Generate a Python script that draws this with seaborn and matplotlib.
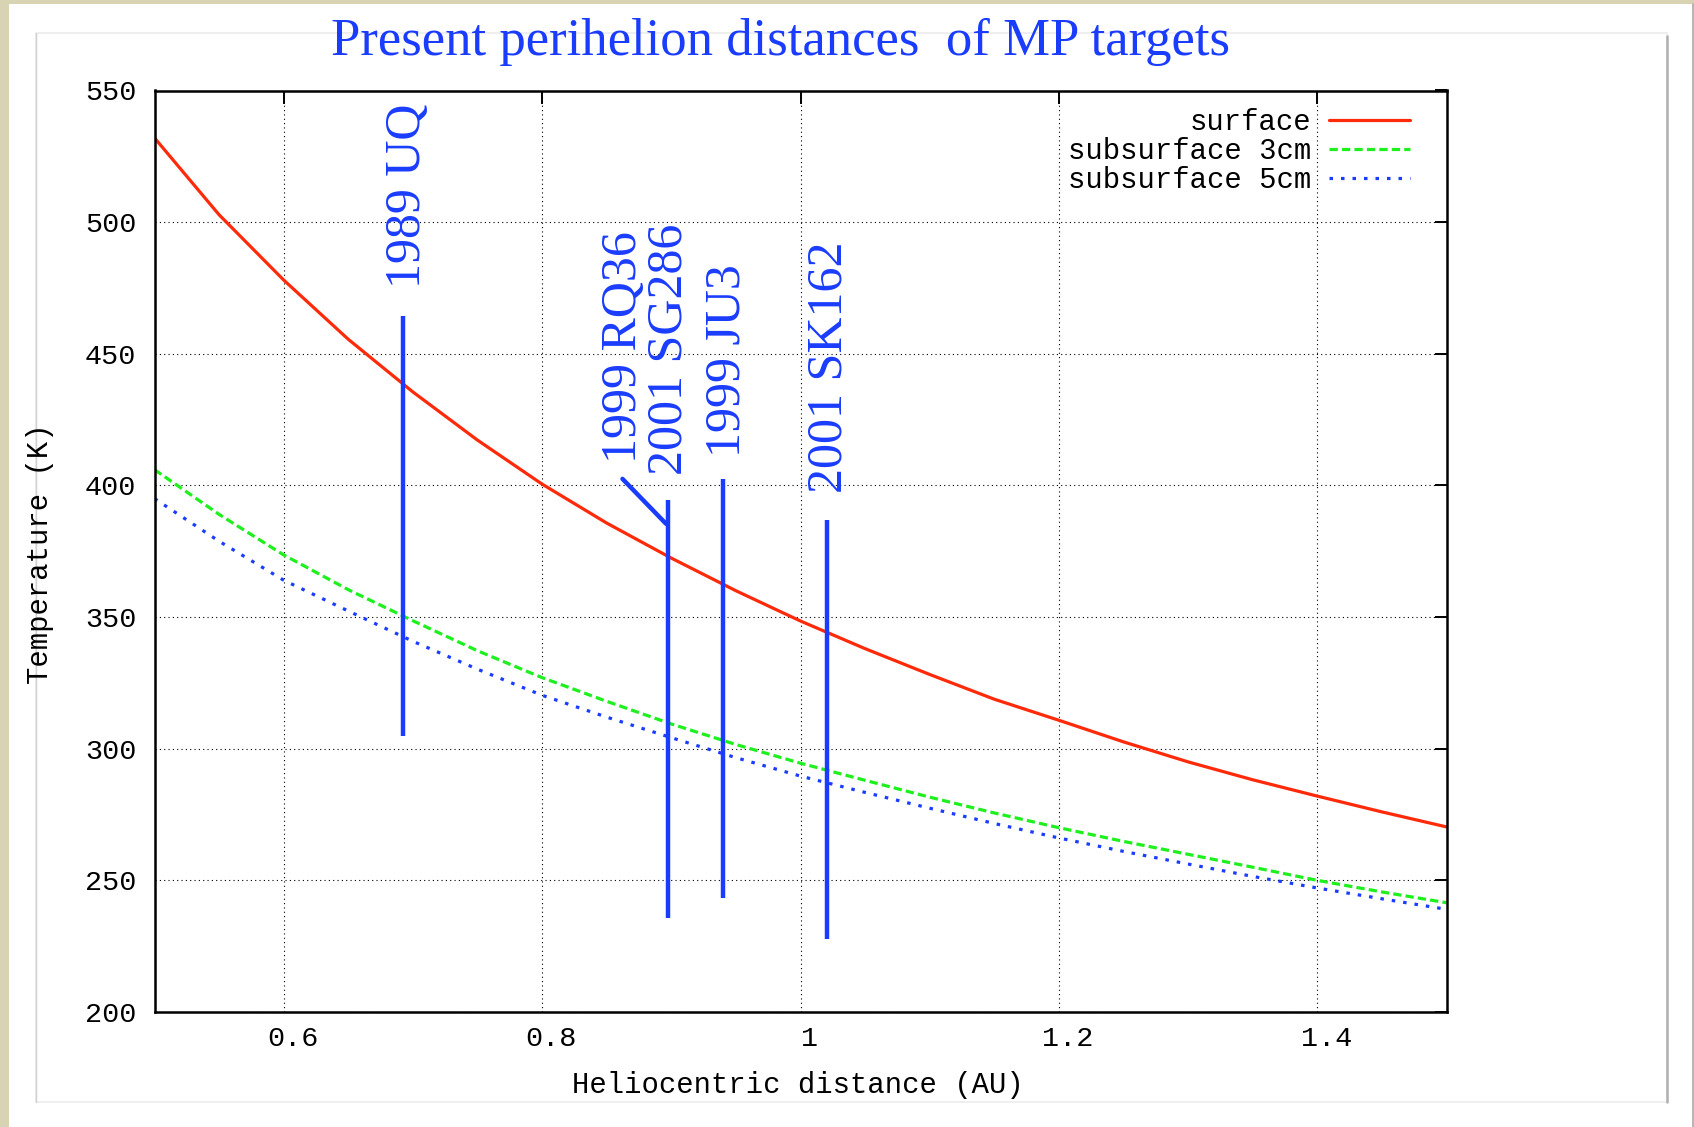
import numpy as np
import pandas as pd
import matplotlib
matplotlib.use("Agg")
import matplotlib.pyplot as plt
import matplotlib.transforms as mtransforms
from matplotlib.patches import Rectangle
from matplotlib.lines import Line2D
import seaborn as sns

# ---------------- data ----------------
distance_au = [0.50, 0.55, 0.60, 0.65, 0.70, 0.75, 0.80, 0.85, 0.90, 0.95, 1.00,
               1.05, 1.10, 1.15, 1.20, 1.25, 1.30, 1.35, 1.40, 1.45, 1.50]
surface_k = [532.0, 502.8, 478.0, 455.5, 435.5, 417.2, 400.5, 385.7, 372.4, 360.0, 348.5,
             338.0, 328.2, 318.8, 310.8, 302.6, 295.0, 288.2, 282.0, 276.0, 270.3]
sub3cm_k = [406.0, 389.0, 373.6, 360.4, 348.6, 337.2, 327.0, 318.0, 309.4, 301.6, 294.5,
            288.0, 281.6, 275.6, 270.0, 264.8, 259.9, 255.0, 250.0, 245.6, 241.5]
sub5cm_k = [395.0, 378.8, 364.0, 352.3, 340.8, 330.2, 320.3, 312.0, 304.2, 296.6, 289.6,
            283.4, 277.4, 271.6, 266.1, 261.0, 256.2, 251.5, 247.1, 243.0, 239.0]
series_names = ["surface", "subsurface 3cm", "subsurface 5cm"]

# perihelion markers of the targets
marker_au = [0.6924, 0.8978, 0.9402, 1.0204]
marker_tmin = [304.7, 235.6, 243.4, 227.8]
marker_tmax = [464.2, 394.6, 402.5, 386.7]
leader_au = [0.8622, 0.8960]
leader_k = [402.5, 385.4]

target_names = ["1989 UQ", "1999 RQ36", "2001 SG286", "1999 JU3", "2001 SK162"]
target_label_au = [0.6962, 0.8630, 0.8982, 0.9430, 1.0220]
target_label_k = [474.9, 408.4, 404.0, 410.9, 397.0]

x_ticks = [0.6, 0.8, 1.0, 1.2, 1.4]
x_tick_labels = ["0.6", "0.8", "1", "1.2", "1.4"]
y_ticks = [200, 250, 300, 350, 400, 450, 500, 550]

df = pd.DataFrame({
    "AU": distance_au * 3,
    "T": surface_k + sub3cm_k + sub5cm_k,
    "series": sum([[n] * len(distance_au) for n in series_names], []),
})

# ---------------- style ----------------
sns.set_theme(style="white")
plt.rcParams["font.family"] = ["Liberation Mono", "DejaVu Sans Mono"]
plt.rcParams["axes.edgecolor"] = "black"

W, H = 1694, 1127
fig = plt.figure(figsize=(W / 100, H / 100), dpi=100)
fig.patch.set_facecolor("#d7d3b3")

# slide background and inner panel
fig.add_artist(Rectangle((9 / W, 0), 1 - 9 / W, 1 - 4 / H, transform=fig.transFigure,
                         facecolor="white", edgecolor="none", zorder=-20))
fig.add_artist(Line2D([1692.5 / W, 1692.5 / W], [0, 1 - 4 / H], transform=fig.transFigure,
                      color="#a8a8a8", lw=1.2, zorder=-15))
fig.add_artist(Rectangle((36 / W, 1 - 1102 / H), (1667 - 36) / W, (1102 - 33) / H,
                         transform=fig.transFigure, facecolor="white",
                         edgecolor="#ececec", lw=1.2, zorder=-12))
fig.add_artist(Line2D([36 / W, 36 / W], [1 - 1102 / H, 1 - 33 / H], transform=fig.transFigure,
                      color="#d0d0d0", lw=1.0, zorder=-11))
fig.add_artist(Line2D([1667 / W, 1667 / W], [1 - 1102 / H, 1 - 36 / H], transform=fig.transFigure,
                      color="#b0b0b0", lw=1.8, zorder=-11))

ax = fig.add_axes([154.5 / W, 1 - 1012 / H, (1446.5 - 154.5) / W, (1012 - 90.5) / H])
ax.set_facecolor("white")

palette = {"surface": "#ff2a0a", "subsurface 3cm": "#1ef01e", "subsurface 5cm": "#1a3cff"}
styles = {"surface": "-", "subsurface 3cm": (0, (2.6, 1.3)), "subsurface 5cm": (0, (1.1, 2.5))}
for name in series_names:
    sub = df[df["series"] == name]
    sns.lineplot(data=sub, x="AU", y="T", ax=ax, color=palette[name],
                 linewidth=2.3, linestyle=styles[name], label=name, zorder=3)

mark_color = "#1a3cff"
ax.vlines(marker_au, marker_tmin, marker_tmax, colors=mark_color, linewidth=3.2, zorder=4)
ax.plot(leader_au, leader_k, color=mark_color, linewidth=3.2, zorder=4)
for name, xa, tk in zip(target_names, target_label_au, target_label_k):
    ax.text(xa, tk, name, rotation=90, ha="center", va="bottom", color=mark_color,
            fontsize=36, family=["Liberation Serif", "DejaVu Serif"], zorder=5)

ax.set_xlim(0.5, 1.5)
ax.set_ylim(200, 550)
ax.set_xticks(x_ticks, x_tick_labels)
ax.set_yticks(y_ticks)
ax.grid(True, color="black", linestyle=(0, (1, 2.9)), linewidth=0.8)
ax.set_axisbelow(True)
for s in ax.spines.values():
    s.set_linewidth(1.8)
    s.set_color("black")
    s.set_zorder(6)
ax.tick_params(direction="in", length=9, width=1.4, top=True, right=True,
               labelsize=20.5, colors="black")
ax.tick_params(axis="x", pad=10)
ax.tick_params(axis="y", pad=13)
offset = mtransforms.ScaledTranslation(9 / 100, 0, fig.dpi_scale_trans)
for t in ax.xaxis.get_major_ticks():
    t.label1.set_transform(t.label1.get_transform() + offset)

ax.set_xlabel("Heliocentric distance (AU)", fontsize=20.8, color="black")
ax.set_ylabel("Temperature (K)", fontsize=20.8, color="black")
ax.xaxis.set_label_coords(0.4977, -0.0789)
ax.xaxis.label.set_va("center")
ax.yaxis.set_label_coords(-0.0886, 0.4976)
ax.yaxis.label.set_va("center")

leg = ax.legend(loc="upper right", bbox_to_anchor=(0.9718, 0.9805), frameon=False,
                markerfirst=False, fontsize=20.8, handlelength=2.8, handletextpad=0.62,
                labelspacing=0.02, borderpad=0, borderaxespad=0)
for t in leg.get_texts():
    t.set_color("black")

fig.text(780 / W, 1 - 55 / H, "Present perihelion distances  of MP targets",
         ha="center", va="baseline", color=mark_color, fontsize=38,
         family=["Liberation Serif", "DejaVu Serif"])

fig.savefig("out.png", dpi=100, facecolor=fig.get_facecolor())
